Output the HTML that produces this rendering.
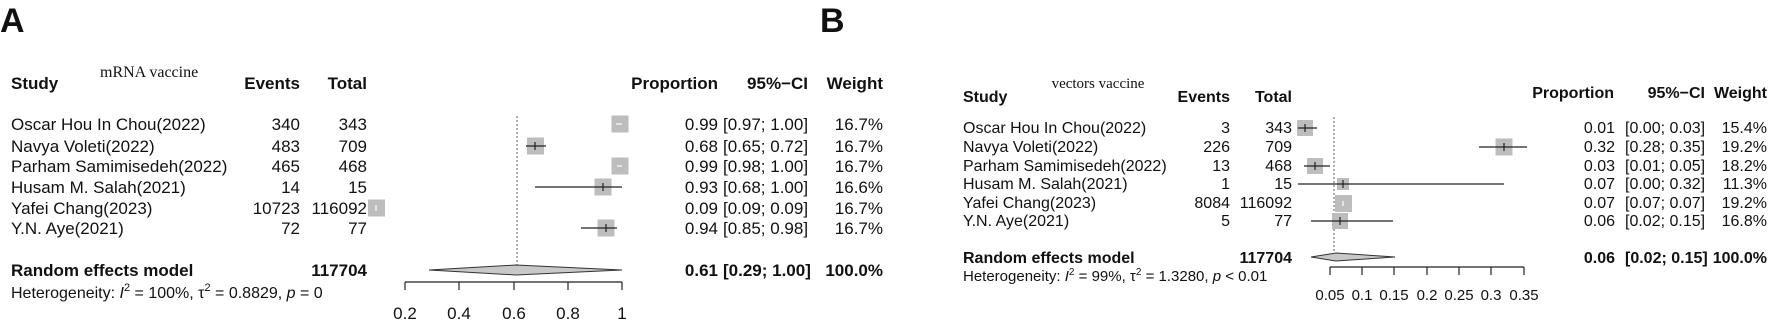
<!DOCTYPE html>
<html><head><meta charset="utf-8"><style>
html,body{margin:0;padding:0;background:#fff;}
svg{display:block;}
text{font-family:"Liberation Sans",Arial,sans-serif;fill:#111;}
.a{font-size:17px;}
.b{font-size:16px;}
.bd{font-weight:bold;}
.r{text-anchor:end;}
.s{font-family:"Liberation Serif",serif;}
</style></head><body>
<svg width="1772" height="322" viewBox="0 0 1772 322" xmlns="http://www.w3.org/2000/svg">
<!-- Panel A -->
<text x="0" y="32" style="font-size:34px;font-weight:bold">A</text>
<text x="100" y="77" class="s" style="font-size:16px">mRNA vaccine</text>
<g class="a">
<text x="11" y="89" class="a bd">Study</text>
<text x="300" y="89" class="a bd r">Events</text>
<text x="367" y="89" class="a bd r">Total</text>
<text x="718" y="89" class="a bd r">Proportion</text>
<text x="808" y="89" class="a bd r">95%−CI</text>
<text x="883" y="89" class="a bd r">Weight</text>
</g>
<g class="a">
<text x="11" y="130" class="a">Oscar Hou In Chou(2022)</text>
<text x="11" y="152" class="a">Navya Voleti(2022)</text>
<text x="11" y="172" class="a">Parham Samimisedeh(2022)</text>
<text x="11" y="193" class="a">Husam M. Salah(2021)</text>
<text x="11" y="214" class="a">Yafei Chang(2023)</text>
<text x="11" y="234" class="a">Y.N. Aye(2021)</text>
<text x="300" y="130" class="a r">340</text><text x="367" y="130" class="a r">343</text>
<text x="300" y="152" class="a r">483</text><text x="367" y="152" class="a r">709</text>
<text x="300" y="172" class="a r">465</text><text x="367" y="172" class="a r">468</text>
<text x="300" y="193" class="a r">14</text><text x="367" y="193" class="a r">15</text>
<text x="300" y="214" class="a r">10723</text><text x="367" y="214" class="a r">116092</text>
<text x="300" y="234" class="a r">72</text><text x="367" y="234" class="a r">77</text>
<text x="718" y="130" class="a r">0.99</text><text x="723" y="130" class="a">[0.97; 1.00]</text><text x="883" y="130" class="a r">16.7%</text>
<text x="718" y="152" class="a r">0.68</text><text x="723" y="152" class="a">[0.65; 0.72]</text><text x="883" y="152" class="a r">16.7%</text>
<text x="718" y="172" class="a r">0.99</text><text x="723" y="172" class="a">[0.98; 1.00]</text><text x="883" y="172" class="a r">16.7%</text>
<text x="718" y="193" class="a r">0.93</text><text x="723" y="193" class="a">[0.68; 1.00]</text><text x="883" y="193" class="a r">16.6%</text>
<text x="718" y="214" class="a r">0.09</text><text x="723" y="214" class="a">[0.09; 0.09]</text><text x="883" y="214" class="a r">16.7%</text>
<text x="718" y="234" class="a r">0.94</text><text x="723" y="234" class="a">[0.85; 0.98]</text><text x="883" y="234" class="a r">16.7%</text>
<text x="11" y="276" class="a bd">Random effects model</text>
<text x="367" y="276" class="a bd r">117704</text>
<text x="718" y="276" class="a bd r">0.61</text><text x="723" y="276" class="a bd">[0.29; 1.00]</text><text x="883" y="276" class="a bd r">100.0%</text>
<text x="11" y="298" style="font-size:16px">Heterogeneity: <tspan font-style="italic">I</tspan><tspan dy="-7" style="font-size:11px">2</tspan><tspan dy="7"> = 100%, τ</tspan><tspan dy="-7" style="font-size:11px">2</tspan><tspan dy="7"> = 0.8829, </tspan><tspan font-style="italic">p</tspan> = 0</text>
</g>
<!-- A plot -->
<line x1="517" y1="116" x2="517" y2="266" stroke="#777" stroke-width="1.2" stroke-dasharray="2,2"/>
<g fill="#bdbdbd">
<rect x="611.5" y="115.5" width="17" height="17"/>
<rect x="527" y="137.5" width="17" height="17"/>
<rect x="611.5" y="157.5" width="17" height="17"/>
<rect x="594.5" y="178.5" width="17" height="17"/>
<rect x="368" y="199.5" width="17" height="17"/>
<rect x="597.5" y="219.5" width="17" height="17"/>
</g>
<g stroke="#222" stroke-width="1.2">
<line x1="616" y1="124" x2="622" y2="124" stroke="#fff"/>
<line x1="526" y1="146" x2="546" y2="146"/><line x1="535" y1="142" x2="535" y2="150"/>
<line x1="617" y1="166" x2="622" y2="166" stroke="#fff"/>
<line x1="535" y1="187" x2="622" y2="187"/><line x1="603" y1="183" x2="603" y2="191"/>
<line x1="376" y1="205" x2="376" y2="211" stroke="#fff"/>
<line x1="581" y1="228" x2="617" y2="228"/><line x1="606" y1="224" x2="606" y2="232"/>
</g>
<polygon points="429,270 516,265 622,270 516,275" fill="#c8c8c8" stroke="#333" stroke-width="1"/>
<g stroke="#222" stroke-width="1.2">
<line x1="405" y1="282" x2="622" y2="282"/>
<line x1="405" y1="282" x2="405" y2="290"/><line x1="459" y1="282" x2="459" y2="290"/>
<line x1="514" y1="282" x2="514" y2="290"/><line x1="568" y1="282" x2="568" y2="290"/>
<line x1="622" y1="282" x2="622" y2="290"/>
</g>
<g style="font-size:17px;text-anchor:middle">
<text x="405" y="319" style="text-anchor:middle">0.2</text><text x="459" y="319" style="text-anchor:middle">0.4</text>
<text x="514" y="319" style="text-anchor:middle">0.6</text><text x="568" y="319" style="text-anchor:middle">0.8</text>
<text x="622" y="319" style="text-anchor:middle">1</text>
</g>

<!-- Panel B -->
<text x="820" y="32" style="font-size:34px;font-weight:bold">B</text>
<text x="1098" y="88" class="s" style="font-size:15px;text-anchor:middle">vectors vaccine</text>
<text x="963" y="102" class="b bd">Study</text>
<text x="1230" y="102" class="b bd r">Events</text>
<text x="1292" y="102" class="b bd r">Total</text>
<text x="1614" y="98" class="b bd r">Proportion</text>
<text x="1705" y="98" class="b bd r">95%−CI</text>
<text x="1767" y="98" class="b bd r">Weight</text>
<text x="963" y="133" class="b">Oscar Hou In Chou(2022)</text>
<text x="963" y="152" class="b">Navya Voleti(2022)</text>
<text x="963" y="171" class="b">Parham Samimisedeh(2022)</text>
<text x="963" y="189" class="b">Husam M. Salah(2021)</text>
<text x="963" y="208" class="b">Yafei Chang(2023)</text>
<text x="963" y="226" class="b">Y.N. Aye(2021)</text>
<text x="1230" y="133" class="b r">3</text><text x="1292" y="133" class="b r">343</text>
<text x="1230" y="152" class="b r">226</text><text x="1292" y="152" class="b r">709</text>
<text x="1230" y="171" class="b r">13</text><text x="1292" y="171" class="b r">468</text>
<text x="1230" y="189" class="b r">1</text><text x="1292" y="189" class="b r">15</text>
<text x="1230" y="208" class="b r">8084</text><text x="1292" y="208" class="b r">116092</text>
<text x="1230" y="226" class="b r">5</text><text x="1292" y="226" class="b r">77</text>
<text x="1615" y="133" class="b r">0.01</text><text x="1625" y="133" class="b">[0.00; 0.03]</text><text x="1767" y="133" class="b r">15.4%</text>
<text x="1615" y="152" class="b r">0.32</text><text x="1625" y="152" class="b">[0.28; 0.35]</text><text x="1767" y="152" class="b r">19.2%</text>
<text x="1615" y="171" class="b r">0.03</text><text x="1625" y="171" class="b">[0.01; 0.05]</text><text x="1767" y="171" class="b r">18.2%</text>
<text x="1615" y="189" class="b r">0.07</text><text x="1625" y="189" class="b">[0.00; 0.32]</text><text x="1767" y="189" class="b r">11.3%</text>
<text x="1615" y="208" class="b r">0.07</text><text x="1625" y="208" class="b">[0.07; 0.07]</text><text x="1767" y="208" class="b r">19.2%</text>
<text x="1615" y="226" class="b r">0.06</text><text x="1625" y="226" class="b">[0.02; 0.15]</text><text x="1767" y="226" class="b r">16.8%</text>
<text x="963" y="263" class="b bd">Random effects model</text>
<text x="1292" y="263" class="b bd r">117704</text>
<text x="1615" y="263" class="b bd r">0.06</text><text x="1625" y="263" class="b bd">[0.02; 0.15]</text><text x="1767" y="263" class="b bd r">100.0%</text>
<text x="963" y="281" style="font-size:15px">Heterogeneity: <tspan font-style="italic">I</tspan><tspan dy="-6" style="font-size:10px">2</tspan><tspan dy="6"> = 99%, τ</tspan><tspan dy="-6" style="font-size:10px">2</tspan><tspan dy="6"> = 1.3280, </tspan><tspan font-style="italic">p</tspan> &lt; 0.01</text>
<!-- B plot -->
<line x1="1334" y1="117" x2="1334" y2="252" stroke="#777" stroke-width="1.2" stroke-dasharray="2,2"/>
<g fill="#bdbdbd">
<rect x="1297" y="120" width="16" height="16"/>
<rect x="1495.5" y="138.5" width="17" height="17"/>
<rect x="1307" y="158" width="16" height="16"/>
<rect x="1337" y="178" width="12" height="12"/>
<rect x="1335" y="195" width="17" height="17"/>
<rect x="1332" y="213" width="16" height="16"/>
</g>
<g stroke="#222" stroke-width="1.2">
<line x1="1298" y1="128" x2="1317" y2="128"/><line x1="1305" y1="124" x2="1305" y2="132"/>
<line x1="1479" y1="147" x2="1527" y2="147"/><line x1="1504" y1="143" x2="1504" y2="151"/>
<line x1="1304" y1="166" x2="1330" y2="166"/><line x1="1315" y1="162" x2="1315" y2="170"/>
<line x1="1298" y1="184" x2="1504" y2="184"/><line x1="1343" y1="180" x2="1343" y2="188"/>
<line x1="1343" y1="201" x2="1343" y2="206" stroke="#fff"/>
<line x1="1311" y1="221" x2="1393" y2="221"/><line x1="1340" y1="217" x2="1340" y2="225"/>
</g>
<polygon points="1311,257 1336,253 1395,257 1336,261" fill="#c8c8c8" stroke="#333" stroke-width="1"/>
<g stroke="#222" stroke-width="1.2">
<line x1="1330" y1="267" x2="1524" y2="267"/>
<line x1="1330" y1="267" x2="1330" y2="275"/><line x1="1362" y1="267" x2="1362" y2="275"/>
<line x1="1394" y1="267" x2="1394" y2="275"/><line x1="1427" y1="267" x2="1427" y2="275"/>
<line x1="1459" y1="267" x2="1459" y2="275"/><line x1="1491" y1="267" x2="1491" y2="275"/>
<line x1="1524" y1="267" x2="1524" y2="275"/>
</g>
<g style="font-size:15px">
<text x="1330" y="300" style="text-anchor:middle">0.05</text><text x="1362" y="300" style="text-anchor:middle">0.1</text>
<text x="1394" y="300" style="text-anchor:middle">0.15</text><text x="1427" y="300" style="text-anchor:middle">0.2</text>
<text x="1459" y="300" style="text-anchor:middle">0.25</text><text x="1491" y="300" style="text-anchor:middle">0.3</text>
<text x="1524" y="300" style="text-anchor:middle">0.35</text>
</g>
</svg>
</body></html>
